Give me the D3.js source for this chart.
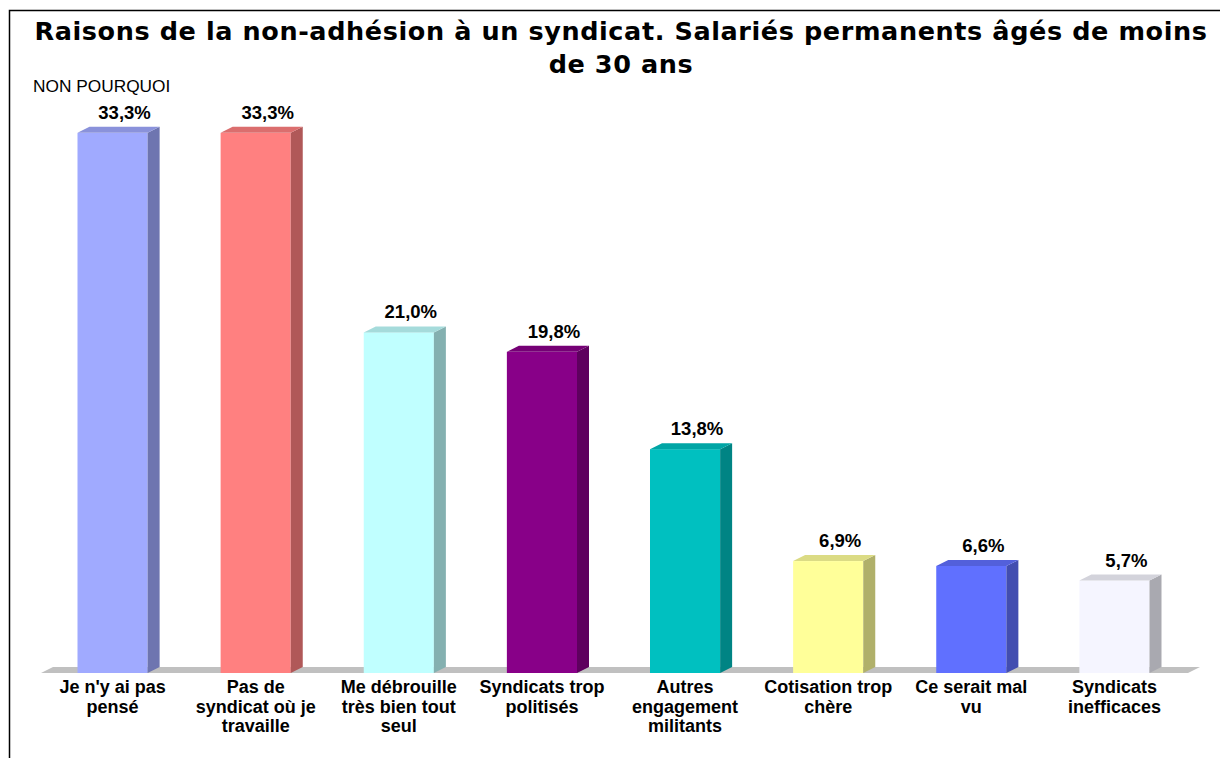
<!DOCTYPE html>
<html>
<head>
<meta charset="utf-8">
<script src="https://cdn.jsdelivr.net/npm/d3@7"></script>
<style>
  body { margin: 0; background: #fff; }
  svg { display: block; }
</style>
</head>
<body>
<div id="chart"></div>
<script>
// categories (line breaks as in the original axis labels)
var categories = [
    "Je n'y ai pas\npensé",
    "Pas de\nsyndicat où je\ntravaille",
    "Me débrouille\ntrès bien tout\nseul",
    "Syndicats trop\npolitisés",
    "Autres\nengagement\nmilitants",
    "Cotisation trop\nchère",
    "Ce serait mal\nvu",
    "Syndicats\ninefficaces"
];
var values = [33.3, 33.3, 21.0, 19.8, 13.8, 6.9, 6.6, 5.7];
var barColors = ["#A0AAFF", "#FF8080", "#C0FFFF", "#880088", "#00C0C0", "#FFFF99", "#6070FF", "#F5F5FF"];

var titleLines = ["Raisons de la non-adhésion à un syndicat. Salariés permanents âgés de moins", "de 30 ans"];
var subTitle = "NON POURQUOI";

function main() {
    var width = 1220,
        height = 758;

    var svg = d3.select("#chart").append("svg")
        .attr("width", width)
        .attr("height", height);

    // frame (only top and left edges are visible in the picture)
    svg.append("path")
        .attr("d", "M9.5,758V10.5H1220")
        .attr("fill", "none")
        .attr("stroke", "#000")
        .attr("stroke-width", 1.5);

    // title
    svg.append("g").selectAll("text")
        .data(titleLines)
        .enter().append("text")
        .attr("x", 621)
        .attr("y", function(d, i) { return 40 + i * 33; })
        .attr("text-anchor", "middle")
        .style("font-family", "'DejaVu Sans', Verdana, sans-serif")
        .style("font-weight", "bold")
        .style("font-size", "25.5px")
        .style("letter-spacing", "0.6px")
        .text(function(d) { return d; });

    svg.append("text")
        .attr("x", 33)
        .attr("y", 92)
        .style("font-family", "'Liberation Sans', Arial, sans-serif")
        .style("font-size", "17.3px")
        .text(subTitle);

    /* scales */
    var depthX = 12, depthY = 6;
    var baseY = 673;

    var x = d3.scaleBand()
        .domain(categories)
        .range([41, 1186])
        .paddingInner(0.51)
        .paddingOuter(0.255);

    var y = d3.scaleLinear()
        .domain([0, 35])
        .range([baseY, baseY - 35 * 16.22]);

    var bw = x.bandwidth();

    // floor
    svg.append("path")
        .attr("d", "M41," + baseY + "L1188," + baseY + "L" + (1188 + depthX) + "," + (baseY - depthY) +
                   "L" + (41 + depthX) + "," + (baseY - depthY) + "Z")
        .attr("fill", "#C0C0C0");

    var data = categories.map(function(c, i) { return { cat: c, value: values[i], color: barColors[i] }; });

    function shade(col, k) {
        var c = d3.rgb(col);
        return d3.rgb(c.r * k, c.g * k, c.b * k).formatHex();
    }

    var bars = svg.append("g").selectAll(".bar")
        .data(data)
        .enter().append("g")
        .attr("class", "bar");

    // front face
    bars.append("rect")
        .attr("x", function(d) { return x(d.cat); })
        .attr("y", function(d) { return y(d.value); })
        .attr("width", bw)
        .attr("height", function(d) { return baseY - y(d.value); })
        .attr("fill", function(d) { return d.color; });

    // side face
    bars.append("path")
        .attr("d", function(d) {
            var x0 = x(d.cat) + bw, y0 = y(d.value);
            return "M" + x0 + "," + y0 + "L" + (x0 + depthX) + "," + (y0 - depthY) +
                   "L" + (x0 + depthX) + "," + (baseY - depthY) + "L" + x0 + "," + baseY + "Z";
        })
        .attr("fill", function(d) { return shade(d.color, 0.69); });

    // top face
    bars.append("path")
        .attr("d", function(d) {
            var x0 = x(d.cat), y0 = y(d.value);
            return "M" + x0 + "," + y0 + "L" + (x0 + depthX) + "," + (y0 - depthY) +
                   "L" + (x0 + bw + depthX) + "," + (y0 - depthY) + "L" + (x0 + bw) + "," + y0 + "Z";
        })
        .attr("fill", function(d) { return shade(d.color, 0.86); });

    // value labels
    bars.append("text")
        .attr("x", function(d) { return x(d.cat) + bw / 2 + depthX; })
        .attr("y", function(d) { return y(d.value) - depthY - 8; })
        .attr("text-anchor", "middle")
        .style("font-family", "'Liberation Sans', Arial, sans-serif")
        .style("font-weight", "bold")
        .style("font-size", "18.5px")
        .text(function(d) { return d3.format(".1f")(d.value).replace(".", ",") + "%"; });

    // category labels
    var xAxis = svg.append("g")
        .attr("transform", "translate(0," + baseY + ")")
        .call(d3.axisBottom(x).tickSize(0).tickPadding(0).tickFormat(""));
    xAxis.select(".domain").remove();

    xAxis.selectAll(".tick").each(function(d) {
        var t = d3.select(this).select("text")
            .attr("y", 0)
            .attr("dy", null)
            .style("font-family", "'Liberation Sans', Arial, sans-serif")
            .style("font-weight", "bold")
            .style("font-size", "18px")
            .attr("fill", "#000");
        d.split("\n").forEach(function(line, i) {
            t.append("tspan")
                .attr("x", 0)
                .attr("y", 20 + i * 19.5)
                .text(line);
        });
    });
}
main();
</script>
</body>
</html>
